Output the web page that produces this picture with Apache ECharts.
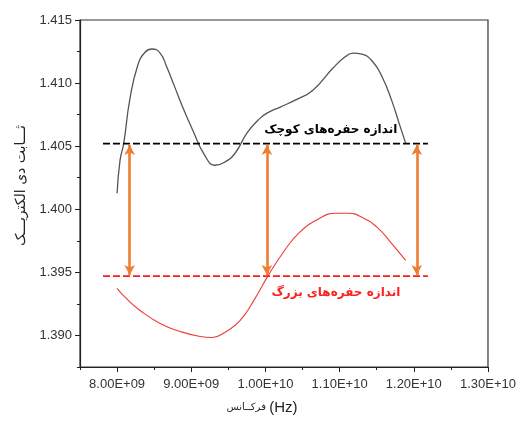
<!DOCTYPE html>
<html>
<head>
<meta charset="utf-8">
<script src="https://cdn.jsdelivr.net/npm/echarts@6/dist/echarts.min.js"></script>
<style>
html,body{margin:0;padding:0;background:#fff;}
#main{width:519px;height:423px;}
</style>
</head>
<body>
<div id="main"></div>
<script>
// Frequency (Hz) and dielectric constant values
var smallPoreX = [8.00e9, 8.04e9, 8.09e9, 8.17e9, 8.28e9, 8.38e9, 8.47e9, 8.58e9, 8.67e9, 8.77e9, 8.87e9, 9.02e9, 9.18e9, 9.32e9, 9.45e9, 9.59e9, 9.75e9, 9.90e9, 10.02e9, 10.20e9, 10.40e9, 10.64e9, 10.91e9, 11.07e9, 11.18e9, 11.30e9, 11.45e9, 11.58e9, 11.70e9, 11.81e9, 11.89e9];
var smallPoreY = [1.40127, 1.40389, 1.40524, 1.40865, 1.41143, 1.41246, 1.41270, 1.41238, 1.41127, 1.40980, 1.40830, 1.40627, 1.40429, 1.40349, 1.40373, 1.40444, 1.40603, 1.40706, 1.40762, 1.40810, 1.40865, 1.40944, 1.41119, 1.41206, 1.41238, 1.41230, 1.41167, 1.41040, 1.40865, 1.40667, 1.40524];
var largePoreX = [8.00e9, 8.11e9, 8.31e9, 8.58e9, 8.85e9, 9.12e9, 9.28e9, 9.45e9, 9.66e9, 9.86e9, 10.03e9, 10.26e9, 10.46e9, 10.71e9, 10.94e9, 11.11e9, 11.30e9, 11.52e9, 11.70e9, 11.89e9];
var largePoreY = [1.39373, 1.39301, 1.39198, 1.39095, 1.39032, 1.38992, 1.38984, 1.39024, 1.39119, 1.39294, 1.39468, 1.39675, 1.39817, 1.39921, 1.39968, 1.39968, 1.39937, 1.39849, 1.39730, 1.39595];
var refLineX = [7.81e9, 12.19e9];
var smallLevel = 1.4052;
var largeLevel = 1.3947;
var arrowX = [8.17e9, 10.02e9, 12.04e9];
var smallLabel = 'اندازه حفره‌های کوچک';
var largeLabel = 'اندازه حفره‌های بزرگ';
var smallLabelPos = [10.88e9, 1.40627];
var largeLabelPos = [10.95e9, 1.39341];
var xMajorTicks = [8e9, 9e9, 10e9, 11e9, 12e9, 13e9];
var xMinorTicks = [7.5e9, 8.5e9, 9.5e9, 10.5e9, 11.5e9, 12.5e9];
var yMajorTicks = [1.390, 1.395, 1.400, 1.405, 1.410, 1.415];
var yMinorTicks = [1.3875, 1.3925, 1.3975, 1.4025, 1.4075, 1.4125];
var xTitleWord = 'فرکــانس';
var xTitleUnit = '(Hz)';
var yTitle = 'ثـــابت دی الکتریـــک';

function fmtE(v) {
  var e = Math.floor(Math.log10(v) + 1e-9);
  var m = v / Math.pow(10, e);
  var es = (e < 10 ? '0' : '') + e;
  return m.toFixed(2) + 'E+' + es;
}
function zip(a, b) { return a.map(function (v, i) { return [v, b[i]]; }); }

var chart = echarts.init(document.getElementById('main'));
var axisColor = '#222';
var labelColor = '#333';
var option = {
  backgroundColor: '#fff',
  animation: false,
  grid: { left: 80, top: 20, right: 31, bottom: 56, show: true, borderColor: '#333', borderWidth: 1.2, backgroundColor: 'transparent' },
  xAxis: [{
    type: 'value', min: 7.5e9, max: 13e9,
    name: '{a|' + xTitleWord + '} {b|' + xTitleUnit + '}', nameLocation: 'middle', nameGap: 33,
    nameTextStyle: {
      padding: [0, 44, 0, 0],
      rich: {
        a: { fontSize: 10, color: '#222', fontFamily: 'DejaVu Sans' },
        b: { fontSize: 15, color: '#222', fontFamily: 'Liberation Sans' }
      }
    },
    axisLine: { show: true, lineStyle: { color: axisColor, width: 1.2 } },
    axisTick: { show: true, length: 5, inside: false, customValues: xMajorTicks, lineStyle: { color: axisColor } },
    axisLabel: { show: true, customValues: xMajorTicks, margin: 11, fontSize: 13, color: labelColor, fontFamily: 'Liberation Sans', formatter: fmtE },
    splitLine: { show: false }
  }, {
    type: 'value', min: 7.5e9, max: 13e9, position: 'bottom', gridIndex: 0,
    axisLine: { show: false },
    axisTick: { show: true, length: 3, customValues: xMinorTicks, lineStyle: { color: axisColor } },
    axisLabel: { show: false }, splitLine: { show: false }
  }],
  yAxis: [{
    type: 'value', min: 1.3875, max: 1.415,
    name: yTitle, nameLocation: 'middle', nameGap: 51, nameRotate: 90,
    nameTextStyle: { fontSize: 14, color: '#222', fontFamily: 'DejaVu Sans', padding: [0, 0, 0, 16] },
    axisLine: { show: true, lineStyle: { color: axisColor, width: 1.2 } },
    axisTick: { show: true, length: 5, customValues: yMajorTicks, lineStyle: { color: axisColor } },
    axisLabel: { show: true, customValues: yMajorTicks, margin: 8, fontSize: 13, color: labelColor, fontFamily: 'Liberation Sans', formatter: function (v) { return v.toFixed(3); } },
    splitLine: { show: false }
  }, {
    type: 'value', min: 1.3875, max: 1.415, position: 'left', gridIndex: 0,
    axisLine: { show: false },
    axisTick: { show: true, length: 3, customValues: yMinorTicks, lineStyle: { color: axisColor } },
    axisLabel: { show: false }, splitLine: { show: false }
  }],
  series: [{
    name: 'small', type: 'line', smooth: 0.5, symbol: 'none',
    data: zip(smallPoreX, smallPoreY),
    lineStyle: { color: '#555', width: 1.3 }
  }, {
    name: 'large', type: 'line', smooth: 0.5, symbol: 'none',
    data: zip(largePoreX, largePoreY),
    lineStyle: { color: '#f03a3a', width: 1.1 }
  }, {
    name: 'smallLevel', type: 'line', symbol: 'none', z: 3,
    data: refLineX.map(function (x) { return [x, smallLevel]; }),
    lineStyle: { color: '#000', width: 1.6, type: [7, 3] },
    markPoint: {
      symbol: 'circle', symbolSize: 0, silent: true,
      label: { show: true, position: 'inside', color: '#000', fontWeight: 'bold', fontSize: 12, fontFamily: 'DejaVu Sans', formatter: function () { return smallLabel; } },
      data: [{ coord: smallLabelPos }]
    }
  }, {
    name: 'largeLevel', type: 'line', symbol: 'none', z: 3,
    data: refLineX.map(function (x) { return [x, largeLevel]; }),
    lineStyle: { color: '#ff1a1a', width: 1.6, type: [7, 3] },
    markPoint: {
      symbol: 'circle', symbolSize: 0, silent: true,
      label: { show: true, position: 'inside', color: '#ff2020', fontWeight: 'bold', fontSize: 12, fontFamily: 'DejaVu Sans', formatter: function () { return largeLabel; } },
      data: [{ coord: largeLabelPos }]
    },
    markLine: {
      silent: true, symbol: ['arrow', 'arrow'], symbolSize: [8, 10],
      label: { show: false },
      lineStyle: { color: '#ED7D31', width: 2.6, type: 'solid' },
      data: arrowX.map(function (x) { return [{ coord: [x, smallLevel - 0.0001] }, { coord: [x, largeLevel + 0.0001] }]; })
    }
  }]
};
chart.setOption(option);
</script>
</body>
</html>
